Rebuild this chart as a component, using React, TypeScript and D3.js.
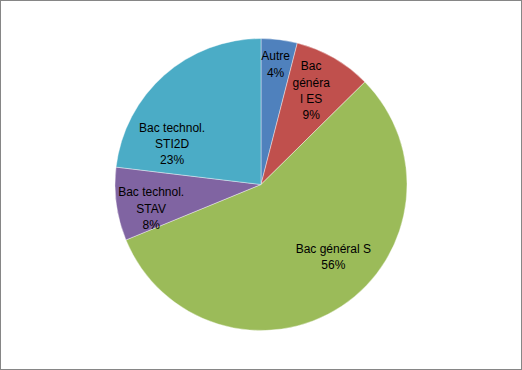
import React from 'react';
import * as d3 from 'd3';

// share of each category
const categories = ['Autre', 'Bac général ES', 'Bac général S', 'Bac technol. STAV', 'Bac technol. STI2D'];
const values = [4.0, 8.6, 56.2, 8.1, 23.1];
// label lines as Excel wrapped them
const labelLines = [
    ['Autre'],
    ['Bac', 'généra', 'l ES'],
    ['Bac général S'],
    ['Bac technol.', 'STAV'],
    ['Bac technol.', 'STI2D'],
];
const colors = ['#4F81BD', '#C0504D', '#9BBB59', '#8064A2', '#4BACC6'];

// label placement: angle offset (deg) from slice middle and radius fraction
const labelNudge = [
    [-0.3, 0.83],
    [-1.8, 0.73],
    [-11.6, 0.70],
    [-4.5, 0.77],
    [-23.8, 0.67],
];

const W = 522, H = 370;
const cx = 261, cy = 184.5, R = 146;
const lineH = 16.3;

export default function App() {
    const total = d3.sum(values);
    const pie = d3.pie<number>().sort(null).value(d => d);
    const arcs = pie(values);
    const arc = d3.arc<d3.PieArcDatum<number>>().innerRadius(0).outerRadius(R);

    return (
        <svg width={W} height={H} style={{ position: 'fixed', left: 0, top: 0, background: '#fff' }}>
            <rect x={0.5} y={0.5} width={W - 1} height={H - 1} fill="#fff" stroke="#868686" />
            <g transform={`translate(${cx},${cy})`}>
                {arcs.map((a, i) => (
                    <path key={categories[i]} d={arc(a) || ''} fill={colors[i]} stroke="#fff" strokeWidth={0.4} />
                ))}
                {arcs.map((a, i) => {
                    const mid = (a.startAngle + a.endAngle) / 2 + (labelNudge[i][0] * Math.PI) / 180;
                    const r = labelNudge[i][1] * R;
                    const x = Math.sin(mid) * r;
                    const y = -Math.cos(mid) * r;
                    const lines = [...labelLines[i], `${Math.round((values[i] / total) * 100)}%`];
                    const top = y - ((lines.length - 1) * lineH) / 2;
                    return (
                        <text key={'l' + i} textAnchor="middle" fontFamily="'Liberation Sans', Arial, sans-serif" fontSize={12} fill="#000">
                            {lines.map((t, j) => (
                                <tspan key={j} x={x} y={top + j * lineH + 4.3}>{t}</tspan>
                            ))}
                        </text>
                    );
                })}
            </g>
        </svg>
    );
}
